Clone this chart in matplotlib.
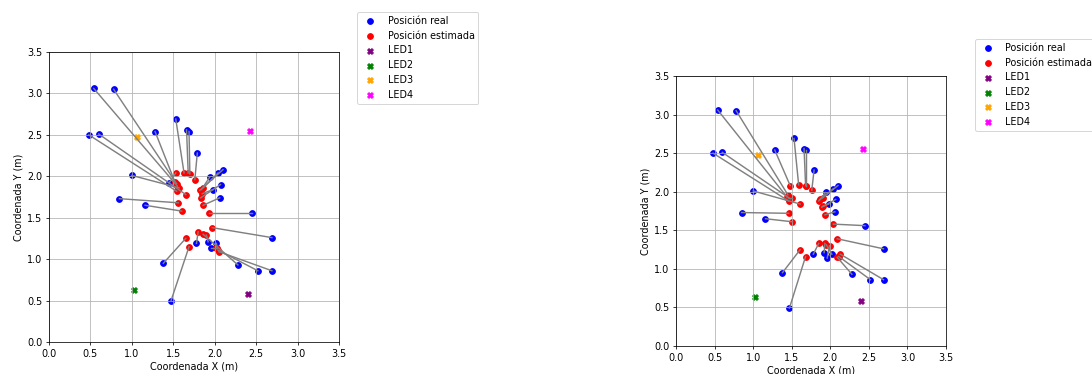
import numpy as np
import matplotlib
matplotlib.use("Agg")
import matplotlib.pyplot as plt

# posiciones reales (m)
real_x = [0.54, 0.78, 0.48, 0.60, 1.28, 1.53, 1.66, 1.69, 1.79, 1.00,
          1.45, 1.94, 2.04, 2.10, 2.07, 1.98, 2.06, 0.85, 1.16, 2.45,
          2.69, 1.78, 1.92, 1.96, 2.02, 1.38, 1.47, 2.28, 2.52, 2.69]
real_y = [3.06, 3.05, 2.50, 2.51, 2.54, 2.69, 2.56, 2.54, 2.28, 2.01,
          1.92, 1.99, 2.04, 2.08, 1.90, 1.84, 1.74, 1.73, 1.65, 1.56,
          1.26, 1.19, 1.21, 1.14, 1.19, 0.95, 0.49, 0.93, 0.86, 0.86]

# posiciones estimadas, grafico izquierdo
est1_x = [1.55, 1.54, 1.54, 1.65, 1.52, 1.63, 1.68, 1.70, 1.76, 1.57,
          1.53, 1.84, 1.86, 1.82, 1.83, 1.85, 1.86, 1.56, 1.60, 1.93,
          1.97, 1.80, 1.90, 2.02, 2.03, 1.65, 1.69, 1.86, 2.04, 2.05]
est1_y = [1.88, 1.91, 1.82, 1.78, 1.93, 2.04, 2.04, 2.03, 1.96, 1.86,
          2.04, 1.84, 1.86, 1.83, 1.74, 1.79, 1.65, 1.68, 1.58, 1.56,
          1.38, 1.33, 1.29, 1.14, 1.13, 1.25, 1.15, 1.30, 1.11, 1.09]

# posiciones estimadas, grafico derecho
est2_x = [1.44, 1.45, 1.46, 1.48, 1.48, 1.59, 1.68, 1.69, 1.76, 1.61,
          1.50, 1.85, 1.87, 1.90, 1.89, 1.90, 1.93, 1.46, 1.51, 2.04,
          2.09, 1.85, 1.93, 1.99, 1.95, 1.61, 1.68, 2.09, 2.11, 2.13]
est2_y = [1.93, 1.96, 1.88, 1.91, 2.08, 2.09, 2.08, 2.07, 2.02, 1.84,
          1.92, 1.88, 1.90, 1.92, 1.80, 1.81, 1.70, 1.72, 1.61, 1.58,
          1.39, 1.33, 1.33, 1.30, 1.31, 1.25, 1.16, 1.15, 1.16, 1.19]

# LEDs
led_nombres = ["LED1", "LED2", "LED3", "LED4"]
led_x = [2.40, 1.03, 1.06, 2.43]
led_y = [0.58, 0.63, 2.47, 2.55]
led_colores = ["purple", "green", "orange", "magenta"]

ticks = np.arange(0, 3.51, 0.5)

fig = plt.figure(figsize=(1092 / 69, 374 / 69), dpi=69)


def graficar(ax, est_x, est_y, leg_x, leg_y):
    for i in range(len(real_x)):
        ax.plot([real_x[i], est_x[i]], [real_y[i], est_y[i]], color="gray")
    ax.scatter(real_x, real_y, color="blue", label="Posición real")
    ax.scatter(est_x, est_y, color="red", label="Posición estimada")
    for i in range(len(led_nombres)):
        ax.scatter(led_x[i], led_y[i], color=led_colores[i], marker="X",
                   label=led_nombres[i])
    ax.set_xlim(0, 3.5)
    ax.set_ylim(0, 3.5)
    ax.set_xticks(ticks)
    ax.set_yticks(ticks)
    ax.grid(True)
    ax.set_xlabel("Coordenada X (m)", labelpad=2.5)
    ax.set_ylabel("Coordenada Y (m)")
    ax.legend(loc="upper left", bbox_to_anchor=(leg_x, leg_y), borderaxespad=0)


ax1 = fig.add_axes([49 / 1092, 32 / 374, 290 / 1092, 290 / 374])
graficar(ax1, est1_x, est1_y, 1.062, 1.138)

ax2 = fig.add_axes([676 / 1092, 28 / 374, 270 / 1092, 270 / 374])
graficar(ax2, est2_x, est2_y, 1.106, 1.137)

fig.savefig("out.png", dpi=69)
